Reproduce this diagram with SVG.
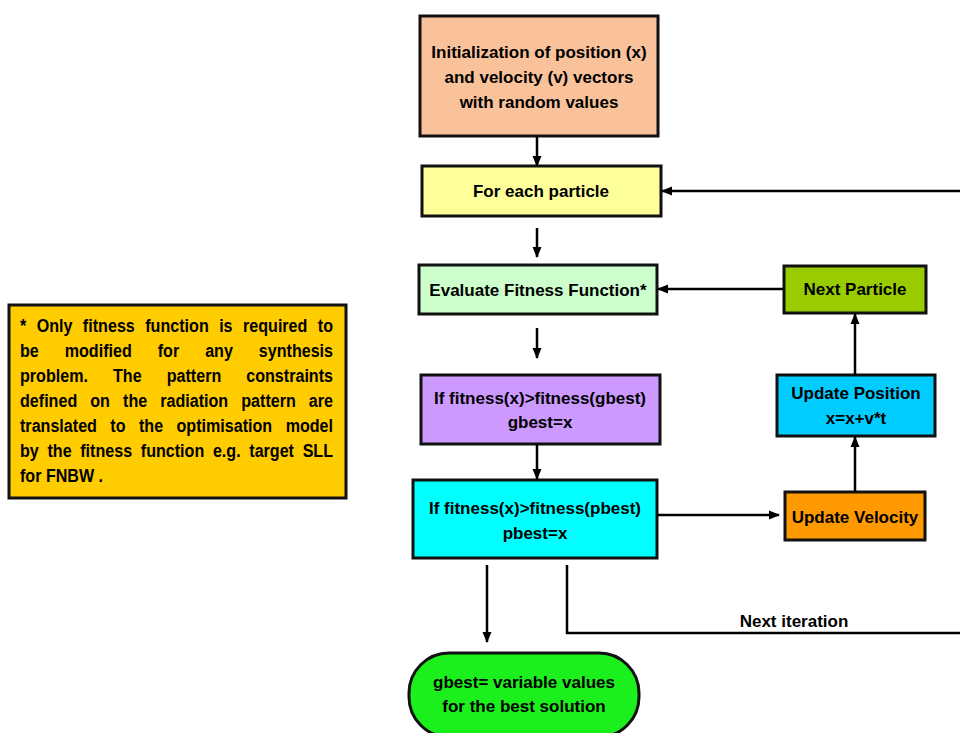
<svg xmlns="http://www.w3.org/2000/svg" width="960" height="733" viewBox="0 0 960 733">
<defs>
<marker id="ah" markerWidth="11" markerHeight="10" refX="10" refY="5" orient="auto" markerUnits="userSpaceOnUse">
<path d="M0,0.5 L11,5 L0,9.5 Z" fill="#000"/>
</marker>
<style>
.box{stroke:#111;stroke-width:3}
.t{font-family:"Liberation Sans",Arial,sans-serif;font-weight:bold;font-size:17px;fill:#000;text-anchor:middle}
.n{font-family:"Liberation Sans",Arial,sans-serif;font-weight:bold;font-size:18.5px;fill:#000}
.c{stroke:#000;stroke-width:2.5;fill:none}
.ca{stroke:#000;stroke-width:2.5;fill:none;marker-end:url(#ah)}
</style>
</defs>
<rect width="960" height="733" fill="#fff"/>
<g id="init">
<rect class="box" x="420" y="16" width="238" height="120" fill="#F9C29B"/>
<text class="t" x="539" y="58">Initialization of position (x)</text>
<text class="t" x="539" y="83">and velocity (v) vectors</text>
<text class="t" x="539" y="108">with random values</text>
</g>
<g id="foreach">
<rect class="box" x="422" y="166" width="239" height="50" fill="#FFFF99"/>
<text class="t" x="541" y="197">For each particle</text>
</g>
<g id="evaluate">
<rect class="box" x="419" y="265" width="238" height="49" fill="#CCFFCC"/>
<text class="t" x="538" y="296">Evaluate Fitness Function*</text>
</g>
<g id="nextparticle">
<rect class="box" x="784" y="266" width="142" height="47" fill="#99CC00"/>
<text class="t" x="855" y="295">Next Particle</text>
</g>
<g id="gbestcheck">
<rect class="box" x="421" y="375" width="239" height="69" fill="#CC99FF"/>
<text class="t" x="540" y="404">If fitness(x)&gt;fitness(gbest)</text>
<text class="t" x="540" y="428">gbest=x</text>
</g>
<g id="updatepos">
<rect class="box" x="777" y="375" width="158" height="61" fill="#00CCFF"/>
<text class="t" x="856" y="399">Update Position</text>
<text class="t" x="856" y="424">x=x+v*t</text>
</g>
<g id="pbestcheck">
<rect class="box" x="413" y="480" width="244" height="78" fill="#00FFFF"/>
<text class="t" x="535" y="514">If fitness(x)&gt;fitness(pbest)</text>
<text class="t" x="535" y="539">pbest=x</text>
</g>
<g id="updatevel">
<rect class="box" x="785" y="492" width="140" height="48" fill="#FF9900"/>
<text class="t" x="855" y="523">Update Velocity</text>
</g>
<g id="result">
<rect class="box" x="409" y="653" width="230" height="84" rx="40" ry="40" fill="#1CF01C"/>
<text class="t" x="524" y="688">gbest= variable values</text>
<text class="t" x="524" y="712">for the best solution</text>
</g>
<g id="note">
<rect class="box" x="9" y="305" width="337" height="193" fill="#FFCC00"/>
<g transform="scale(0.87,1)">
<text class="n" x="23" y="332" word-spacing="6.8" textLength="359.8" lengthAdjust="spacing">* Only fitness function is required to</text>
<text class="n" x="23" y="357" word-spacing="24.7" textLength="359.8" lengthAdjust="spacing">be modified for any synthesis</text>
<text class="n" x="23" y="382" word-spacing="23.6" textLength="359.8" lengthAdjust="spacing">problem. The pattern constraints</text>
<text class="n" x="23" y="407" word-spacing="9.9" textLength="359.8" lengthAdjust="spacing">defined on the radiation pattern are</text>
<text class="n" x="23" y="432" word-spacing="10.3" textLength="359.8" lengthAdjust="spacing">translated to the optimisation model</text>
<text class="n" x="23" y="457" word-spacing="4.8" textLength="359.8" lengthAdjust="spacing">by the fitness function e.g. target SLL</text>
<text class="n" x="23" y="482">for FNBW .</text>
</g>
</g>
<g id="connectors">
<line class="ca" x1="537" y1="136" x2="537" y2="166"/>
<line class="ca" x1="960" y1="191" x2="662" y2="191"/>
<line class="ca" x1="537" y1="228" x2="537" y2="257"/>
<line class="ca" x1="784" y1="289" x2="658" y2="289"/>
<line class="ca" x1="537" y1="328" x2="537" y2="358"/>
<line class="ca" x1="537" y1="444" x2="537" y2="479"/>
<line class="ca" x1="657" y1="515" x2="779" y2="515"/>
<line class="ca" x1="855" y1="492" x2="855" y2="437"/>
<line class="ca" x1="855" y1="375" x2="855" y2="314"/>
<line class="ca" x1="487" y1="565" x2="487" y2="642"/>
<polyline class="c" points="567,565 567,633 960,633"/>
<text class="t" x="794" y="627">Next iteration</text>
</g>
</svg>
